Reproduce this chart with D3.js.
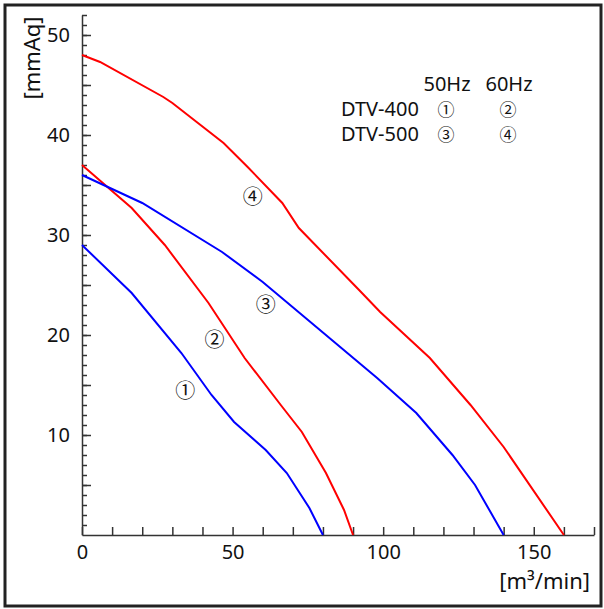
<!DOCTYPE html>
<html>
<head>
<meta charset="utf-8">
<script src="https://cdn.jsdelivr.net/npm/d3@7"></script>
<style>
body{margin:0;background:#fff;}
svg text{font-family:"Noto Sans",sans-serif;fill:#111;}
.axis path,.axis line{stroke:#333;stroke-width:1.5px;}
.circ{font-family:"Noto Sans CJK KR",sans-serif !important;}
</style>
</head>
<body>
<div id="chart"></div>
<script>
//curve data: [m3/min, mmAq]
var dtv400_50=[[0,29],[16.5,24.2],[33,18.2],[43,14],[50.5,11.3],[61,8.5],[68,6.2],[75.5,2.7],[80,0]];
var dtv400_60=[[0,37],[16.5,32.7],[27.5,29],[42,23.2],[54,17.7],[66,13],[73,10.3],[81,6.2],[87,2.5],[90,0]];
var dtv500_50=[[0,36],[20,33.2],[46.5,28.3],[60,25.3],[98,15.7],[111,12.2],[123,8],[130.5,5],[140,0]];
var dtv500_60=[[0,48],[6,47.3],[27,43.8],[30,43.2],[47,39.2],[55,36.8],[66.5,33.2],[72,30.7],[92,24.5],[99,22.3],[115.5,17.7],[129,13],[140,8.8],[160,0]];

var series=[
	{name:"\u2460",data:dtv400_50,color:"#0000ff",label:[34.3,14.4]},
	{name:"\u2461",data:dtv400_60,color:"#ff0000",label:[44,19.5]},
	{name:"\u2462",data:dtv500_50,color:"#0000ff",label:[61,23]},
	{name:"\u2463",data:dtv500_60,color:"#ff0000",label:[56.7,33.8]}
];

var xTickLabels=[0,50,100,150];
var yTickLabels=[10,20,30,40,50];
var legendCols=["50Hz","60Hz"];
var legendRows=[["DTV-400","\u2460","\u2461"],["DTV-500","\u2462","\u2463"]];

var width=604,height=609;

var svg=d3.select("#chart").append("svg")
	.attr("width",width)
	.attr("height",height);

//frame
svg.append("rect")
	.attr("x",5).attr("y",5)
	.attr("width",596).attr("height",601)
	.style("fill","none")
	.style("stroke","#222")
	.style("stroke-width",3);

var x=d3.scaleLinear().domain([0,170]).range([82,594]);
var y=d3.scaleLinear().domain([0,52]).range([535,15]);

//x axis, ticks pointing up
var xAxis=svg.append("g")
	.attr("class","axis")
	.attr("transform","translate(0,"+y(0)+")")
	.call(d3.axisBottom(x)
		.tickValues(d3.range(0,171,10))
		.tickSize(-8)
		.tickSizeOuter(0)
		.tickPadding(10)
		.tickFormat(function(d){ return xTickLabels.indexOf(d)>=0 ? d : ""; }));
xAxis.selectAll("text").style("font-size","20px");

//y axis minor ticks
svg.append("g")
	.attr("class","axis")
	.attr("transform","translate("+x(0)+",0)")
	.call(d3.axisLeft(y)
		.tickValues(d3.range(1,53,1))
		.tickSize(-5)
		.tickSizeOuter(0)
		.tickFormat(""));

//y axis major ticks
var yAxis=svg.append("g")
	.attr("class","axis")
	.attr("transform","translate("+x(0)+",0)")
	.call(d3.axisLeft(y)
		.tickValues(d3.range(5,51,5))
		.tickSize(-9)
		.tickSizeOuter(0)
		.tickPadding(12)
		.tickFormat(function(d){ return yTickLabels.indexOf(d)>=0 ? d : ""; }));
yAxis.selectAll("text").style("font-size","20px");
yAxis.select(".domain").remove();

//axis titles
svg.append("text")
	.attr("transform","translate(40,58) rotate(-90)")
	.attr("text-anchor","middle")
	.style("font-size","22px")
	.text("[mmAq]");

svg.append("text")
	.attr("x",590).attr("y",589)
	.attr("text-anchor","end")
	.style("font-size","22px")
	.text("[m\u00b3/min]");

//curves
var line=d3.line()
	.x(function(d){ return x(d[0]); })
	.y(function(d){ return y(d[1]); });

svg.selectAll(".curve")
	.data(series)
	.enter().append("path")
	.attr("class","curve")
	.attr("d",function(d){ return line(d.data); })
	.style("fill","none")
	.style("stroke",function(d){ return d.color; })
	.style("stroke-width",2);

svg.selectAll(".mark")
	.data(series)
	.enter().append("text")
	.attr("class","mark circ")
	.attr("x",function(d){ return x(d.label[0]); })
	.attr("y",function(d){ return y(d.label[1]); })
	.attr("dy","0.36em")
	.attr("text-anchor","middle")
	.style("font-size","20px")
	.text(function(d){ return d.name; });

//legend table
var colX=[447,509];
svg.selectAll(".lcol")
	.data(legendCols)
	.enter().append("text")
	.attr("x",function(d,i){ return colX[i]; })
	.attr("y",91)
	.attr("text-anchor","middle")
	.style("font-size","20px")
	.text(function(d){ return d; });

legendRows.forEach(function(r,i){
	var yy=116+i*25;
	svg.append("text")
		.attr("x",341).attr("y",yy)
		.style("font-size","20px")
		.text(r[0]);
	r.slice(1).forEach(function(c,j){
		svg.append("text")
			.attr("class","circ")
			.attr("x",colX[j]-1).attr("y",yy-6)
			.attr("dy","0.36em")
			.attr("text-anchor","middle")
			.style("font-size","17px")
			.text(c);
	});
});
</script>
</body>
</html>
